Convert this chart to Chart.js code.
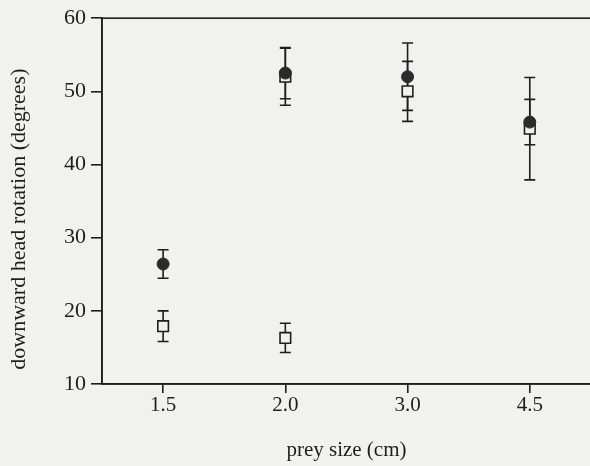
<!DOCTYPE html>
<html>
<head>
<meta charset="utf-8">
<script src="https://cdn.jsdelivr.net/npm/chart.js@4.4.1/dist/chart.umd.min.js"></script>
<style>
html, body { margin: 0; padding: 0; background: #f1f1ef; overflow: hidden; }
#wrap { width: 600px; height: 466px; }
</style>
</head>
<body>
<div id="wrap"><canvas id="chart" width="600" height="466"></canvas></div>
<script>
// prey size categories on x
var preySizes = ['1.5', '2.0', '3.0', '4.5'];
// filled circles: mean and error (degrees)
var filledMean = [26.4, 52.5, 52.0, 45.8];
var filledErr = [1.95, 3.5, 4.6, 3.1];
// open squares
var openMean = [17.9, 52.0, 50.0, 44.9];
var openErr = [2.1, 3.9, 4.1, 7.0];
// second open square at 2.0 cm
var openLowMean = [null, 16.3, null, null];
var openLowErr = [null, 2.0, null, null];
var yMin = 10, yMax = 60, yStep = 10;
var yTitle = 'downward head rotation (degrees)';
var xTitle = 'prey size (cm)';

var ink = '#1e1e1e';
var paper = '#f1f1ef';
var serif = "'Liberation Serif', 'DejaVu Serif', serif";

var errorBars = {
    id: 'errorBars',
    beforeDatasetsDraw: function(chart) {
        var ctx = chart.ctx, xs = chart.scales.x, ys = chart.scales.y;
        ctx.save();
        ctx.strokeStyle = ink;
        ctx.lineWidth = 1.6;
        chart.data.datasets.forEach(function(ds) {
            ds.data.forEach(function(v, i) {
                if (v == null) return;
                var e = ds.errors[i];
                var px = xs.getPixelForValue(i);
                var top = ys.getPixelForValue(v + e);
                var bot = ys.getPixelForValue(v - e);
                ctx.beginPath();
                ctx.moveTo(px, top); ctx.lineTo(px, bot);
                ctx.moveTo(px - 5.5, top); ctx.lineTo(px + 5.5, top);
                ctx.moveTo(px - 5.5, bot); ctx.lineTo(px + 5.5, bot);
                ctx.stroke();
            });
        });
        ctx.restore();
    },
    afterDraw: function(chart) {
        var a = chart.chartArea, ctx = chart.ctx;
        ctx.save();
        ctx.strokeStyle = ink;
        ctx.lineWidth = 1.6;
        ctx.strokeRect(a.left, a.top, a.right - a.left, a.bottom - a.top);
        // y title, sits a little below the axis middle like the original
        ctx.translate(19, (a.top + a.bottom) / 2 + 18);
        ctx.rotate(-Math.PI / 2);
        ctx.fillStyle = ink;
        ctx.font = '22px ' + serif;
        ctx.textAlign = 'center';
        ctx.textBaseline = 'middle';
        ctx.fillText(yTitle, 0, 0);
        ctx.restore();
    }
};

var ctx = document.getElementById('chart').getContext('2d');
new Chart(ctx, {
    type: 'line',
    data: {
        labels: preySizes,
        datasets: [{
            label: 'filled',
            data: filledMean,
            errors: filledErr,
            showLine: false,
            pointStyle: 'circle',
            pointRadius: 6,
            pointBackgroundColor: '#2b2b2b',
            pointBorderColor: '#2b2b2b',
            pointBorderWidth: 1
        }, {
            label: 'open',
            data: openMean,
            errors: openErr,
            showLine: false,
            pointStyle: 'rect',
            pointRadius: 7.5,
            pointBackgroundColor: paper,
            pointBorderColor: ink,
            pointBorderWidth: 1.6
        }, {
            label: 'open2',
            data: openLowMean,
            errors: openLowErr,
            showLine: false,
            pointStyle: 'rect',
            pointRadius: 7.5,
            pointBackgroundColor: paper,
            pointBorderColor: ink,
            pointBorderWidth: 1.6
        }]
    },
    options: {
        responsive: false,
        animation: false,
        layout: { padding: { top: 17, right: 6, left: 0, bottom: 0 } },
        plugins: { legend: { display: false }, tooltip: { enabled: false } },
        scales: {
            x: {
                type: 'category',
                offset: true,
                afterFit: function(s) { s.height = 82; },
                grid: { offset: false, drawOnChartArea: false, drawTicks: true, tickLength: 9, color: ink, lineWidth: 1.6 },
                border: { display: true, color: ink, width: 1.6 },
                ticks: { color: ink, font: { family: serif, size: 21 }, padding: 0 },
                title: { display: true, text: xTitle, color: ink, font: { family: serif, size: 21 }, padding: { top: 0, bottom: 3 } }
            },
            y: {
                min: yMin,
                max: yMax,
                afterFit: function(s) { s.width = 102; },
                grid: { drawOnChartArea: false, drawTicks: true, tickLength: 11, color: ink, lineWidth: 1.6 },
                border: { display: true, color: ink, width: 1.6 },
                ticks: { stepSize: yStep, color: ink, font: { family: serif, size: 22 }, padding: 5 },
                title: { display: false }
            }
        }
    },
    plugins: [errorBars]
});
</script>
</body>
</html>
